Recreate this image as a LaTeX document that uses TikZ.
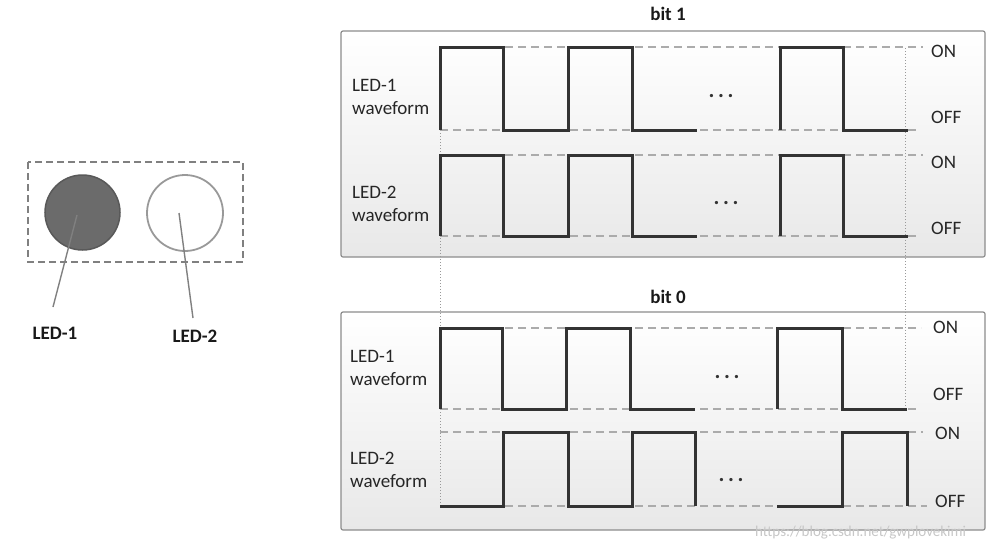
\documentclass[tikz,border=0pt]{standalone}
\usepackage{fontspec}
\setmainfont{Carlito}
\begin{document}
\begin{tikzpicture}[x=1pt,y=-1pt,
  wave/.style={line width=3pt, draw=black!80, line join=miter, line cap=butt},
  level/.style={dash pattern=on 8pt off 5pt, line width=2pt, draw=black!33},
  guide/.style={dotted, draw=black!40, line width=1pt},
  panel/.style={draw=black!45, line width=1.2pt, rounded corners=2pt, top color=white, bottom color=black!9},
  lbl/.style={font=\fontsize{19}{23}\selectfont, text=black!85, inner sep=0pt},
  blbl/.style={font=\fontsize{19}{23}\selectfont\bfseries, text=black!90, inner sep=0pt},
  wlbl/.style={lbl, align=left, anchor=west},
  dotsl/.style={font=\fontsize{22}{26}\selectfont\bfseries, text=black!80, inner sep=0pt, anchor=center},
  ptr/.style={draw=black!50, line width=1.4pt}
]
\useasboundingbox (0,0) rectangle (996,550);

% ---------- left: LEDs ----------
\draw[draw=black!50, line width=1.5pt, dash pattern=on 7pt off 4pt] (28,162) rectangle (243,262);
\node[circle, minimum size=75pt, inner sep=0pt, fill=black!58, draw=black!65, line width=1.5pt] (c1) at (82.5,212.5) {};
\node[circle, minimum size=76pt, inner sep=0pt, fill=white, draw=black!40, line width=1.8pt] (c2) at (185,213) {};
\coordinate (p1) at (77,215);
\coordinate (p2) at (179,213);
\node[blbl] (l1) at (55,333) {LED-1};
\node[blbl] (l2) at (195,336) {LED-2};
\draw[ptr] (p1) -- (53,307) coordinate (q1);
\draw[ptr] (p2) -- (193,318) coordinate (q2);

% ---------- panels ----------
\path[panel] (341,31) rectangle (985,257);
\path[panel] (341,312) rectangle (985,530);
\node[blbl] (bit1) at (668,14) {bit 1};
\node[blbl] (bit0) at (668,297) {bit 0};

% ---------- guides ----------
\draw[guide] (440,130) -- (440,506);
\draw[guide] (905,48) -- (905,409);

% ---------- top panel: level lines ----------
\draw[level] (440,47) -- (923,47);
\draw[level] (440,130) -- (917,130);
\draw[level] (440,155) -- (923,155);
\draw[level] (440,236) -- (917,236);
% ---------- bottom panel: level lines ----------
\draw[level] (440,328) -- (921,328);
\draw[level] (440,409) -- (917,409);
\draw[level] (440,432) -- (923,432);
\draw[level] (440,506) -- (927,506);

% ---------- top panel: waveforms ----------
\draw[wave] (440,130) -- (440,47) -- (503,47) -- (503,130) -- (568,130) -- (568,47) -- (632,47) -- (632,130) -- (697,130);
\draw[wave] (780,130) -- (780,47) -- (843,47) -- (843,130) -- (908,130);
\draw[wave] (440,236) -- (440,155) -- (503,155) -- (503,236) -- (568,236) -- (568,155) -- (632,155) -- (632,236) -- (697,236);
\draw[wave] (780,236) -- (780,155) -- (843,155) -- (843,236) -- (908,236);

% ---------- bottom panel: waveforms ----------
\draw[wave] (440,409) -- (440,328) -- (502,328) -- (502,409) -- (566,409) -- (566,328) -- (630,328) -- (630,409) -- (695,409);
\draw[wave] (777,409) -- (777,328) -- (842,328) -- (842,409) -- (907,409);
\draw[wave] (440,506) -- (503,506) -- (503,432) -- (568,432) -- (568,506) -- (632,506) -- (632,432) -- (695,432) -- (695,506);
\draw[wave] (777,506) -- (842,506) -- (842,432) -- (907,432) -- (907,506);

% ---------- dots ----------
\node[dotsl] (d1) at (721,96) {.\,.\,.};
\node[dotsl] (d2) at (726,203) {.\,.\,.};
\node[dotsl] (d3) at (727,377) {.\,.\,.};
\node[dotsl] (d4) at (731,480) {.\,.\,.};

% ---------- waveform labels ----------
\node[wlbl] (w1) at (352,97) {LED-1\\waveform};
\node[wlbl] (w2) at (352,204) {LED-2\\waveform};
\node[wlbl] (w3) at (350,368) {LED-1\\waveform};
\node[wlbl] (w4) at (350,470) {LED-2\\waveform};

% ---------- ON/OFF labels ----------
\node[lbl, anchor=west] (on1) at (931,51) {ON};
\node[lbl, anchor=west] (off1) at (931,117) {OFF};
\node[lbl, anchor=west] (on2) at (931,162) {ON};
\node[lbl, anchor=west] (off2) at (931,228) {OFF};
\node[lbl, anchor=west] (on3) at (933,327) {ON};
\node[lbl, anchor=west] (off3) at (933,394) {OFF};
\node[lbl, anchor=west] (on4) at (935,433) {ON};
\node[lbl, anchor=west] (off4) at (935,501) {OFF};

% ---------- watermark ----------
\node[font=\fontsize{15}{18}\selectfont, text=black!22, inner sep=0pt, anchor=west] (wm) at (755,533) {https://blog.csdn.net/gwplovekimi};
\end{tikzpicture}
\end{document}
